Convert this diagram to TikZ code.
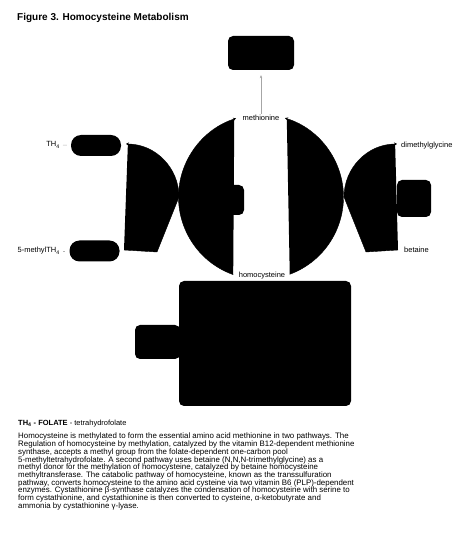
\documentclass[tikz,border=0pt]{standalone}
\usepackage{fontspec}
\setmainfont{Liberation Sans}
\usetikzlibrary{arrows.meta}

\begin{document}
\begin{tikzpicture}[x=1pt, y=1pt,
    flow/.style={fill=black, draw=black, -{Stealth[length=3pt, width=3pt]}},
    tab/.style={fill=black, rounded corners=5pt, inner sep=0pt},
    pill/.style={fill=black, rounded corners=10pt, minimum width=50pt, minimum height=21pt, inner sep=0pt},
    lbl/.style={font=\fontsize{7.5}{9}\selectfont, inner sep=1pt}]
  \useasboundingbox (0,0) rectangle (474,539);
  \node[anchor=west, inner sep=0pt, font=\bfseries\fontsize{10}{12}\selectfont] (title) at (17,521) {Figure 3. Homocysteine Metabolism};

  % boxes
  \node[tab, minimum width=66pt, minimum height=34pt] (prot) at (261,486) {};
  \node[pill] (th4) at (96,393.5) {};
  \node[pill] (mth4) at (94.5,288) {};
  \node[tab, minimum width=172pt, minimum height=125pt] (cbs) at (265,195.5) {};
  \node[tab, minimum width=45pt, minimum height=34pt] (cbstab) at (157.5,197) {};
  \node[tab, minimum width=22pt, minimum height=30pt] (ms) at (233,339) {};
  \node[tab, minimum width=34pt, minimum height=37pt] (bhmt) at (414,340.5) {};

  % labels
  \node[lbl] (met) at (261,421) {methionine};
  \node[lbl] (hcy) at (262,263) {homocysteine};
  \node[lbl, anchor=east] (thf) at (61,394) {TH\textsubscript{4}};
  \node[lbl, anchor=east] (mthf) at (61,288) {5-methylTH\textsubscript{4}};
  \node[lbl, anchor=west] (dmg) at (400,393) {dimethylglycine};
  \node[lbl, anchor=west] (bet) at (403,289) {betaine};

  \draw[gray!60, shorten <=2pt, shorten >=4pt] (thf) -- (th4);
  \draw[gray!60, shorten <=2pt, shorten >=4pt] (mthf) -- (mth4);
  \draw[gray!70, shorten >=5pt, -{Stealth[length=3pt, width=2.5pt]}] (met.north) -- (prot.south);

  % the two remethylation arcs
  \coordinate (c) at (261,342);
  \draw[flow] ([shift={(250.3:82.5)}]c) arc[start angle=250.3, end angle=107.6, radius=82.5];
  \draw[flow] ([shift={(-69.6:82.5)}]c) arc[start angle=-69.6, end angle=73.1, radius=82.5];

  % folate and betaine cycles
  \coordinate (mthfend) at (124,289);
  \coordinate (betend) at (398,289);
  \draw[flow] (mthfend) -- (157,287) -- (179,342) arc[start angle=0, end angle=90, radius=53];
  \draw[flow] (betend) -- (366,287) -- (344,342) arc[start angle=180, end angle=90, radius=53];

  % key and text
  \node[anchor=north west, inner sep=0pt, font=\fontsize{7.5}{9}\selectfont] (key) at (18,119)
    {\textbf{TH\textsubscript{4} - FOLATE} - tetrahydrofolate};
  \node[anchor=north west, align=left, inner sep=0pt, font=\fontsize{7.9}{7.7}\selectfont] (para) at (18,106)
    {Homocysteine is methylated to form the essential amino acid methionine in two pathways. The\\
     Regulation of homocysteine by methylation, catalyzed by the vitamin B12-dependent methionine\\
     synthase, accepts a methyl group from the folate-dependent one-carbon pool\\
     5-methyltetrahydrofolate. A second pathway uses betaine (N,N,N-trimethylglycine) as a\\
     methyl donor for the methylation of homocysteine, catalyzed by betaine homocysteine\\
     methyltransferase. The catabolic pathway of homocysteine, known as the transsulfuration\\
     pathway, converts homocysteine to the amino acid cysteine via two vitamin B6 (PLP)-dependent\\
     enzymes. Cystathionine β-synthase catalyzes the condensation of homocysteine with serine to\\
     form cystathionine, and cystathionine is then converted to cysteine, α-ketobutyrate and\\
     ammonia by cystathionine γ-lyase.};
\end{tikzpicture}
\end{document}
